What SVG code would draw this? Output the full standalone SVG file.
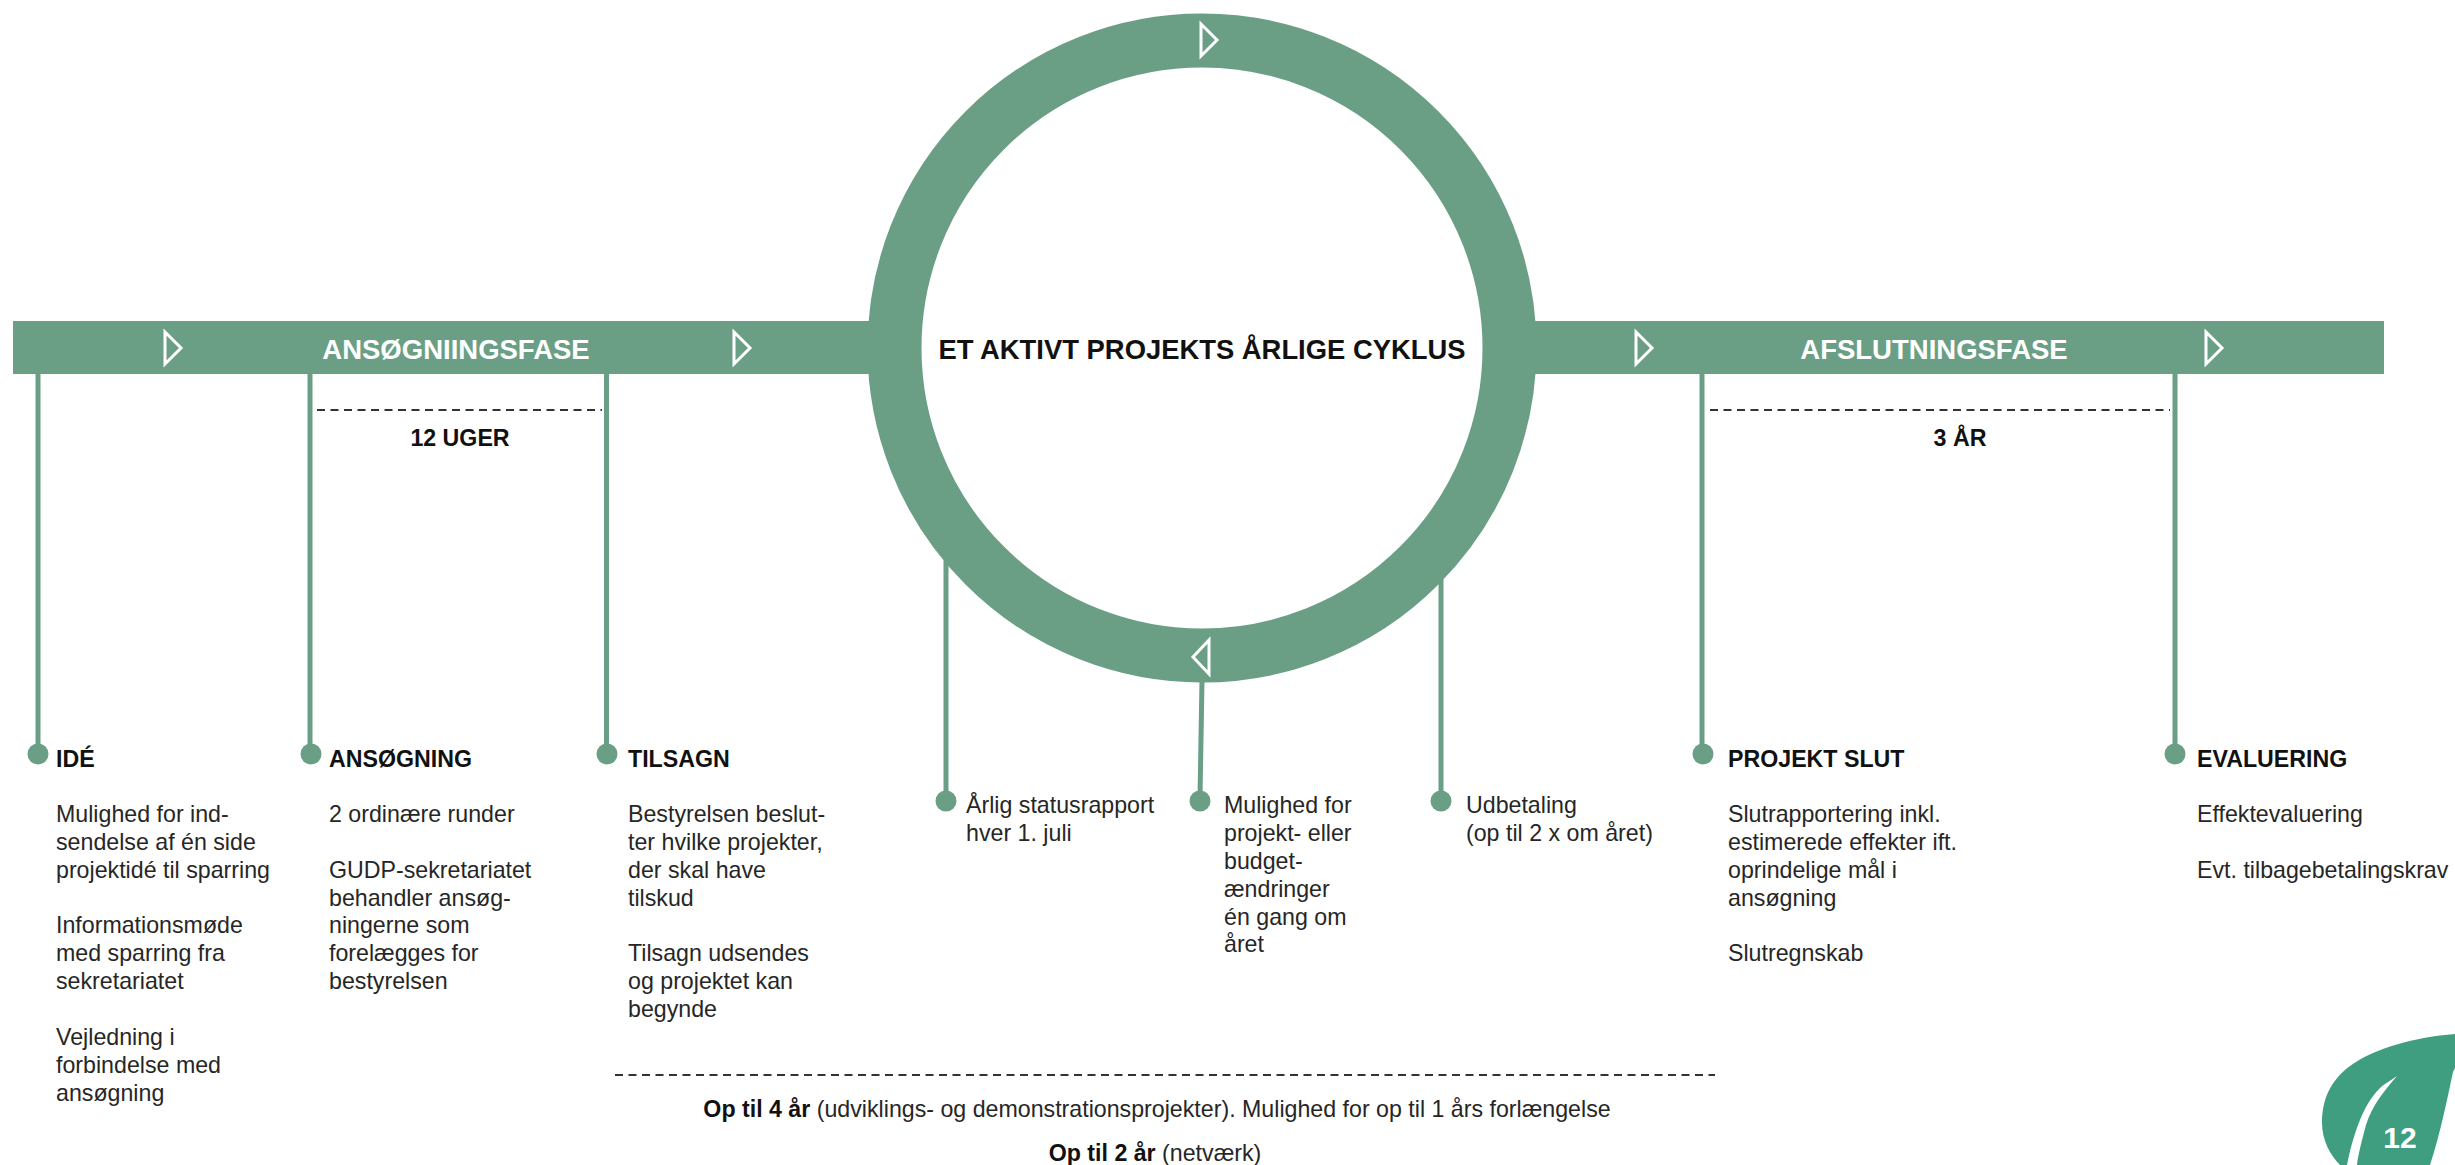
<svg xmlns="http://www.w3.org/2000/svg" width="2455" height="1165" viewBox="0 0 2455 1165">
<style>
text{font-family:"Liberation Sans",Arial,sans-serif;font-size:23.200px;fill:#262626}
.h{font-weight:700;fill:#111}
.w{font-weight:700;fill:#fff;font-size:27.500px}
.band{fill:#6a9f85}
.ln{stroke:#6a9f85;stroke-width:5;fill:none}
.dot{fill:#6a9f85}
.tri{fill:none;stroke:#fff;stroke-width:3}
.dash{stroke:#333;stroke-width:2;stroke-dasharray:8 5.500;fill:none}
</style>
<rect width="2455" height="1165" fill="#fff"/>
<g id="connectors">
<path class="ln" d="M38 370V750M310 370V750M606.500 370V750M946 555V798M1202 680L1200 798M1441 578V798M1702 370V750M2175 370V750"/>
</g>
<g id="bar-left"><rect class="band" x="13" y="321" width="860" height="53"/>
<text class="w" x="456" y="359" text-anchor="middle">ANSØGNIINGSFASE</text>
<path class="tri" d="M165 332L181 348L165 364Z"/><path class="tri" d="M734 332L750 348L734 364Z"/></g>
<g id="bar-right"><rect class="band" x="1530" y="321" width="854" height="53"/>
<text class="w" x="1934" y="359" text-anchor="middle">AFSLUTNINGSFASE</text>
<path class="tri" d="M1636 332L1652 348L1636 364Z"/><path class="tri" d="M2206 332L2222 348L2206 364Z"/></g>
<g id="cycle"><circle cx="1202" cy="348" r="307.500" fill="#fff" stroke="#6a9f85" stroke-width="54"/>
<path class="tri" d="M1201 24L1217 40L1201 56Z"/><path class="tri" d="M1209 640L1193 657L1209 674Z"/>
<text x="1202" y="359" text-anchor="middle" class="h" style="font-size:27.400px">ET AKTIVT PROJEKTS ÅRLIGE CYKLUS</text></g>
<g id="ide"><circle class="dot" cx="38" cy="754" r="10.500"/>
<text class="h" x="56" y="767">IDÉ</text>
<text x="56" y="822">Mulighed for ind-</text><text x="56" y="850">sendelse af én side</text><text x="56" y="878">projektidé til sparring</text>
<text x="56" y="933">Informationsmøde</text><text x="56" y="961">med sparring fra</text><text x="56" y="989">sekretariatet</text>
<text x="56" y="1045">Vejledning i</text><text x="56" y="1073">forbindelse med</text><text x="56" y="1101">ansøgning</text></g>
<g id="ansogning"><circle class="dot" cx="311" cy="754" r="10.500"/>
<text class="h" x="329" y="767">ANSØGNING</text>
<text x="329" y="822">2 ordinære runder</text>
<text x="329" y="878">GUDP-sekretariatet</text><text x="329" y="906">behandler ansøg-</text><text x="329" y="933">ningerne som</text><text x="329" y="961">forelægges for</text><text x="329" y="989">bestyrelsen</text></g>
<g id="tilsagn"><circle class="dot" cx="607" cy="754" r="10.500"/>
<text class="h" x="628" y="767">TILSAGN</text>
<text x="628" y="822">Bestyrelsen beslut-</text><text x="628" y="850">ter hvilke projekter,</text><text x="628" y="878">der skal have</text><text x="628" y="906">tilskud</text>
<text x="628" y="961">Tilsagn udsendes</text><text x="628" y="989">og projektet kan</text><text x="628" y="1017">begynde</text></g>
<g id="aarlig"><circle class="dot" cx="946" cy="801" r="10.500"/>
<text x="966" y="813">Årlig statusrapport</text><text x="966" y="841">hver 1. juli</text></g>
<g id="mulighed"><circle class="dot" cx="1200" cy="801" r="10.500"/>
<text x="1224" y="813">Mulighed for</text><text x="1224" y="841">projekt- eller</text><text x="1224" y="869">budget-</text><text x="1224" y="897">ændringer</text><text x="1224" y="925">én gang om</text><text x="1224" y="952">året</text></g>
<g id="udbetaling"><circle class="dot" cx="1441" cy="801" r="10.500"/>
<text x="1466" y="813">Udbetaling</text><text x="1466" y="841">(op til 2 x om året)</text></g>
<g id="projekt-slut"><circle class="dot" cx="1703" cy="754" r="10.500"/>
<text class="h" x="1728" y="767">PROJEKT SLUT</text>
<text x="1728" y="822">Slutrapportering inkl.</text><text x="1728" y="850">estimerede effekter ift.</text><text x="1728" y="878">oprindelige mål i</text><text x="1728" y="906">ansøgning</text>
<text x="1728" y="961">Slutregnskab</text></g>
<g id="evaluering"><circle class="dot" cx="2175" cy="754" r="10.500"/>
<text class="h" x="2197" y="767">EVALUERING</text>
<text x="2197" y="822">Effektevaluering</text>
<text x="2197" y="878">Evt. tilbagebetalingskrav</text></g>
<g id="durations">
<path class="dash" d="M317 410H602M1710 410H2170M615 1075H1715"/>
<text class="h" x="460" y="446" text-anchor="middle">12 UGER</text>
<text class="h" x="1960" y="446" text-anchor="middle">3 ÅR</text>
<text x="1157" y="1117" text-anchor="middle"><tspan class="h">Op til 4 år</tspan> (udviklings- og demonstrationsprojekter). Mulighed for op til 1 års forlængelse</text>
<text x="1155" y="1161" text-anchor="middle"><tspan class="h">Op til 2 år</tspan> (netværk)</text>
</g>
<g id="leaf"><path fill="#3f9e80" d="M2455 1034C2415 1037 2375 1048 2350 1066C2330 1081 2322 1100 2322 1123C2322 1140 2330 1155 2340 1165H2347C2352 1140 2362 1105 2380 1088C2385 1083 2392 1080 2397 1076C2385 1090 2372 1105 2366 1125C2362 1140 2358 1155 2357 1165H2430C2440 1135 2447 1100 2453 1072L2455 1068Z"/>
<text x="2400" y="1148" text-anchor="middle" style="fill:#fff;font-weight:700;font-size:30px">12</text></g>
</svg>
